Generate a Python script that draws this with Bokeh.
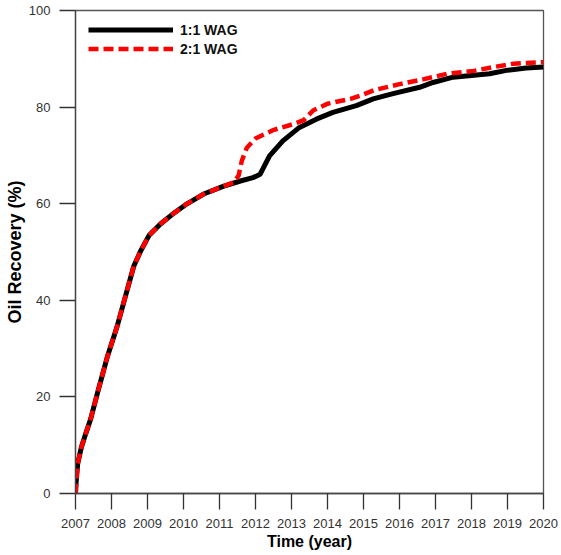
from bokeh.plotting import figure
from bokeh.models import Range1d, FixedTicker, Legend, LegendItem
from bokeh.embed import file_html
from bokeh.resources import INLINE

# ---- data ----
years_11 = [2007.0, 2007.02, 2007.06, 2007.16, 2007.28, 2007.42, 2007.65, 2007.88,
            2008.16, 2008.39, 2008.62, 2008.81, 2009.04, 2009.36, 2009.69, 2010.06,
            2010.56, 2011.1, 2011.58, 2011.93, 2012.13, 2012.39, 2012.76, 2013.22,
            2013.69, 2014.15, 2014.8, 2015.27, 2015.82, 2016.56, 2016.93, 2017.49,
            2018.5, 2018.97, 2019.52, 2020.0]
wag_11 = [0, 2.6, 6.1, 9.5, 12.3, 15.4, 21.9, 28.2,
          34.7, 40.9, 47.1, 50.2, 53.4, 55.8, 57.8, 59.8,
          62.0, 63.6, 64.7, 65.4, 66.1, 69.9, 73.0, 75.8,
          77.5, 78.9, 80.3, 81.7, 82.8, 84.1, 85.1, 86.2,
          86.9, 87.6, 88.1, 88.3]

years_21 = [2007.0, 2007.02, 2007.06, 2007.16, 2007.28, 2007.42, 2007.65, 2007.88,
            2008.16, 2008.39, 2008.62, 2008.81, 2009.04, 2009.36, 2009.69, 2010.06,
            2010.56, 2011.1, 2011.39, 2011.53, 2011.62, 2011.76, 2012.0, 2012.51,
            2013.06, 2013.34, 2013.6, 2014.0, 2014.64, 2014.92, 2015.29, 2016.03,
            2016.68, 2017.32, 2018.06, 2018.62, 2019.17, 2020.0]
wag_21 = [0, 2.6, 6.1, 9.5, 12.3, 15.4, 21.9, 28.2,
          34.7, 40.9, 47.1, 50.2, 53.4, 55.8, 57.8, 59.8,
          62.0, 63.6, 64.4, 65.8, 68.9, 71.6, 73.5, 75.3,
          76.5, 77.3, 79.3, 80.7, 81.7, 82.4, 83.5, 84.8,
          85.8, 86.9, 87.5, 88.3, 89.0, 89.3]

x_ticks = list(range(2007, 2021))
y_ticks = [0, 20, 40, 60, 80, 100]
series_labels = ["1:1 WAG", "2:1 WAG"]

FONT = "Liberation Sans"

p = figure(width=561, height=555, output_backend="svg", toolbar_location=None,
           x_range=Range1d(2007, 2020), y_range=Range1d(0, 100),
           min_border_left=75, min_border_right=18, min_border_top=10, min_border_bottom=62)

p.xgrid.visible = False
p.ygrid.visible = False
p.outline_line_color = "#555555"
p.outline_line_width = 1.3
p.background_fill_color = "white"
p.border_fill_color = "white"

r1 = p.line(years_11, wag_11, line_color="black", line_width=5)
r2 = p.line(years_21, wag_21, line_color="#ff0000", line_width=4.5, line_dash="10 5")

for ax in (p.xaxis[0], p.yaxis[0]):
    ax.axis_line_color = "#444444"
    ax.axis_line_width = 1.3
    ax.major_tick_line_color = "#333333"
    ax.major_tick_line_width = 1.3
    ax.major_tick_in = 0
    ax.major_tick_out = 16
    ax.minor_tick_line_color = None
    ax.major_label_text_font = FONT
    ax.major_label_text_font_size = "13px"
    ax.major_label_text_color = "#333333"
    ax.axis_label_text_font = FONT
    ax.axis_label_text_font_style = "bold"
    ax.axis_label_text_color = "black"

p.xaxis.ticker = FixedTicker(ticks=x_ticks, minor_ticks=[])
p.yaxis.ticker = FixedTicker(ticks=y_ticks, minor_ticks=[])
p.xaxis.axis_label = "Time (year)"
p.yaxis.axis_label = "Oil Recovery (%)"
p.xaxis.axis_label_text_font_size = "16px"
p.yaxis.axis_label_text_font_size = "18px"
p.xaxis.major_label_standoff = 9
p.yaxis.major_label_standoff = 9
p.xaxis.axis_label_standoff = 2
p.yaxis.axis_label_standoff = 1

legend = Legend(items=[LegendItem(label=series_labels[0], renderers=[r1]),
                       LegendItem(label=series_labels[1], renderers=[r2])],
                location=(13, 435))
legend.padding = 0
legend.margin = 0
legend.spacing = 0
legend.glyph_width = 85
legend.glyph_height = 19
legend.label_height = 19
legend.label_standoff = 7
legend.label_text_font = FONT
legend.label_text_font_style = "bold"
legend.label_text_font_size = "14px"
legend.label_text_color = "#111111"
legend.border_line_color = None
legend.background_fill_alpha = 0
p.add_layout(legend)

open("out.html", "w").write(file_html(p, INLINE))
